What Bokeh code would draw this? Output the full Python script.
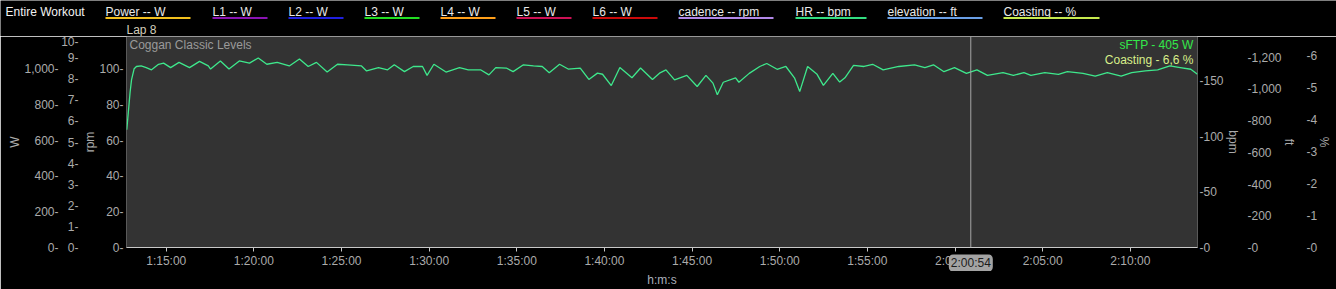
from bokeh.plotting import figure
from bokeh.models import Range1d, LinearAxis, FixedTicker, CustomJSTickFormatter, Span, Label
from bokeh.layouts import column
from bokeh.embed import file_html
from bokeh.resources import INLINE
from bokeh.core.properties import value

FONT = "Liberation Sans"

# ---------------- data ----------------
# heart rate trace: elapsed workout time (minutes) and bpm
time_min = [72.75, 72.85, 72.94, 73.02, 73.17, 73.30, 73.57, 73.86, 74.16, 74.56,
            74.85, 75.25, 75.73, 76.33, 76.90, 77.40, 77.53, 78.09, 78.58, 79.17,
            79.75, 80.25, 80.74, 81.33, 82.02, 82.60, 83.10, 83.57, 84.18, 84.77,
            85.34, 86.14, 86.43, 87.11, 87.63, 88.01, 88.59, 89.09, 89.62, 89.88,
            90.27, 90.96, 91.73, 92.23, 92.93, 93.41, 93.80, 94.40, 94.79, 95.38,
            95.95, 96.45, 96.85, 97.44, 97.93, 98.62, 99.11, 99.60, 99.89, 100.39,
            100.88, 101.57, 102.06, 102.74, 103.14, 103.51, 104.00, 104.70, 105.29, 105.79,
            106.19, 106.44, 106.78, 107.48, 107.67, 108.26, 108.86, 109.26, 109.85, 110.35,
            110.84, 111.14, 111.59, 112.13, 112.49, 113.03, 113.42, 113.72, 114.21, 114.81,
            115.30, 115.90, 116.79, 117.69, 118.28, 118.77, 119.37, 119.97, 120.65, 121.25,
            121.85, 122.74, 123.33, 123.93, 124.33, 125.12, 125.90, 126.41, 127.30, 128.00,
            128.69, 129.48, 130.08, 130.86, 131.56, 132.26, 132.85, 133.45, 133.83]
hr_bpm = [106, 124, 140, 151, 161, 163, 163.5, 162, 160, 165,
          166, 162, 166.7, 162, 167.6, 163.5, 160.7, 168, 160.7, 168,
          166, 170.6, 165, 166.7, 163.5, 169.7, 163, 166.7, 158, 165,
          164.5, 163.5, 159, 162, 160, 164.5, 158.4, 163, 163, 155,
          165, 158, 162, 160, 160, 155.4, 162, 161.6, 158.4, 164.5,
          163.5, 163, 157.4, 165, 160.7, 161.6, 151.3, 157, 156, 145.8,
          162, 152.9, 161.6, 151.3, 157, 160, 151, 155, 145, 155,
          148, 137.5, 148.8, 152.8, 148.8, 156.8, 163, 165.7, 160.5, 163,
          152.8, 140.4, 163, 155.9, 146, 156.8, 149, 152.8, 164, 163,
          165, 160, 163, 164.5, 162, 164.5, 158.3, 162, 156.8, 160,
          155, 157.4, 155, 157.4, 155, 157.4, 155.9, 158.3, 156.8, 154.4,
          157.4, 154.4, 157.4, 159, 160, 163.5, 162, 160.5, 156]

legend_names = ["Power  -- W", "L1  -- W", "L2  -- W", "L3  -- W", "L4  -- W",
                "L5  -- W", "L6  -- W", "cadence  -- rpm", "HR  -- bpm",
                "elevation  -- ft", "Coasting  -- %"]
legend_colors = ["#f2c01e", "#8a14b2", "#2020e0", "#22dd22", "#ff9f1a",
                 "#cc1155", "#cc0a0a", "#b288e8", "#33dd80", "#6a9fe6", "#c6ea4e"]

x_ticks_s = [4500, 4800, 5100, 5400, 5700, 6000, 6300, 6600, 6900, 7200, 7500, 7800]
w_ticks = [0, 200, 400, 600, 800, 1000]
ten_ticks = [0, 1, 2, 3, 4, 5, 6, 7, 8, 9, 10]
rpm_ticks = [0, 20, 40, 60, 80, 100]
bpm_ticks = [0, 50, 100, 150]
ft_ticks = [0, 200, 400, 600, 800, 1000, 1200]
pct_ticks = [0, 1, 2, 3, 4, 5, 6]

cursor_s = 7254            # 2:00:54
cursor_text = "2:00:54"
title_left = "Entire Workout"
lap_name = "Lap 8"
zone_name = "Coggan Classic Levels"
sftp_text = "sFTP - 405 W"
coast_text = "Coasting - 6,6 %"

# ---------------- layout / style ----------------
LABEL = "#ababab"
W = 1336
leg_x = [105, 212, 288, 364, 440, 516, 592, 678, 795, 887, 1003]
leg_x_end = [190, 267, 343, 419, 495, 571, 657, 773, 866, 982, 1099]

top = figure(width=W, height=36, x_range=Range1d(0, W), y_range=Range1d(36, 0),
             toolbar_location=None, output_backend="svg", title=None,
             x_axis_location=None, y_axis_location=None, min_border=0)
top.frame_align = False
top.background_fill_color = "black"
top.border_fill_color = "black"
top.outline_line_color = None
top.grid.grid_line_color = None

top.text(x=[5], y=[11], text=[title_left], text_color="#f2f2f2", text_font=value(FONT),
         text_font_size="12px", text_baseline="middle")
top.text(x=leg_x, y=[11] * len(leg_x), text=legend_names, text_color="#e8e8e8",
         text_font=value(FONT), text_font_size="12px", text_baseline="middle")
top.segment(x0=leg_x, y0=[17.5] * len(leg_x), x1=leg_x_end, y1=[17.5] * len(leg_x),
            line_color=legend_colors, line_width=2)
top.text(x=[126], y=[29], text=[lap_name], text_color="#d4cdbb", text_font=value(FONT),
         text_font_size="12px", text_baseline="middle")

p = figure(width=W, height=253, x_range=Range1d(4364, 8030), y_range=Range1d(0, 190),
           toolbar_location=None, output_backend="svg", title=None, y_axis_location=None,
           min_border_left=126, min_border_right=139, min_border_top=0, min_border_bottom=40)
p.background_fill_color = "#333333"
p.border_fill_color = "black"
p.outline_line_color = None
p.grid.grid_line_color = None

p.extra_y_ranges = {
    "w": Range1d(0, 1180),
    "ten": Range1d(0, 10),
    "rpm": Range1d(0, 118),
    "ft": Range1d(0, 1330),
    "pct": Range1d(0, 6.6),
}

LEFT_FMT = "return tick.toLocaleString('en-US') + '-';"
RIGHT_FMT = "return '-' + tick.toLocaleString('en-US');"


def add_y_axis(rname, ticks, side, label, standoff, title_standoff):
    ax = LinearAxis(y_range_name=rname, ticker=FixedTicker(ticks=ticks),
                    formatter=CustomJSTickFormatter(code=LEFT_FMT if side == "left" else RIGHT_FMT))
    if label:
        ax.axis_label = label
    ax.axis_line_color = None
    ax.major_tick_line_color = None
    ax.minor_tick_line_color = None
    ax.major_tick_out = 0
    ax.major_tick_in = 0
    ax.major_label_standoff = standoff
    ax.major_label_text_color = LABEL
    ax.major_label_text_font = FONT
    ax.major_label_text_font_size = "12px"
    ax.axis_label_text_color = LABEL
    ax.axis_label_text_font = FONT
    ax.axis_label_text_font_size = "12px"
    ax.axis_label_text_font_style = "normal"
    ax.axis_label_standoff = title_standoff
    p.add_layout(ax, side)
    return ax


add_y_axis("rpm", rpm_ticks, "left", "rpm", 3, -1)
add_y_axis("ten", ten_ticks, "left", None, 2, 0)
add_y_axis("w", w_ticks, "left", "W", 0, -1)
add_y_axis("default", bpm_ticks, "right", "bpm", 2, -1)
add_y_axis("ft", ft_ticks, "right", "ft", 5, -3)
add_y_axis("pct", pct_ticks, "right", "%", 8, -3)

xa = p.xaxis[0]
xa.ticker = FixedTicker(ticks=x_ticks_s)
xa.formatter = CustomJSTickFormatter(code="""
const h = Math.floor(tick / 3600);
const m = Math.floor((tick % 3600) / 60);
const s = Math.round(tick % 60);
return h + ':' + String(m).padStart(2, '0') + ':' + String(s).padStart(2, '0');
""")
xa.axis_label = "h:m:s"
xa.axis_line_color = "#c8c8c8"
xa.major_tick_line_color = "#c8c8c8"
xa.major_tick_out = 4
xa.major_tick_in = 0
xa.minor_tick_line_color = None
xa.major_label_standoff = 2
xa.major_label_text_color = LABEL
xa.major_label_text_font = FONT
xa.major_label_text_font_size = "12px"
xa.axis_label_text_color = "#aab0bb"
xa.axis_label_text_font = FONT
xa.axis_label_text_font_size = "12px"
xa.axis_label_text_font_style = "normal"
xa.axis_label_standoff = 2

p.line(x=[t * 60 for t in time_min], y=hr_bpm, line_color="#3ee88c", line_width=1.3)

p.add_layout(Span(location=cursor_s, dimension="height", line_color="#a8a8a8", line_width=1))

p.add_layout(Label(x=3, y=203, x_units="screen", y_units="screen", text=zone_name,
                   text_baseline="middle", text_color="#9a9a9a", text_font=FONT,
                   text_font_size="12px"))
p.add_layout(Label(x=1067, y=203, x_units="screen", y_units="screen", text=sftp_text,
                   text_align="right", text_baseline="middle", text_color="#33e84a",
                   text_font=FONT, text_font_size="12px"))
p.add_layout(Label(x=1067, y=188, x_units="screen", y_units="screen", text=coast_text,
                   text_align="right", text_baseline="middle", text_color="#d8ef8a",
                   text_font=FONT, text_font_size="12px"))

# cursor time bubble drawn on a transparent strip laid over the time axis
cur = figure(width=W, height=17, x_range=p.x_range, y_range=Range1d(0, 17),
             toolbar_location=None, output_backend="svg", title=None,
             x_axis_location=None, y_axis_location=None,
             min_border_left=126, min_border_right=139, min_border_top=0, min_border_bottom=0,
             margin=(-35, 0, 0, 0))
cur.background_fill_alpha = 0
cur.border_fill_alpha = 0
cur.outline_line_color = None
cur.grid.grid_line_color = None
cur.add_layout(Label(x=cursor_s, y=8.5, text=cursor_text,
                     text_align="center", text_baseline="middle", text_color="#1c1c1c",
                     text_font=FONT, text_font_size="12px", background_fill_color="#a3a3a3",
                     border_radius=5, padding=2))

layout = column(top, p, cur, spacing=0)
open("out.html", "w").write(file_html(layout, INLINE))
